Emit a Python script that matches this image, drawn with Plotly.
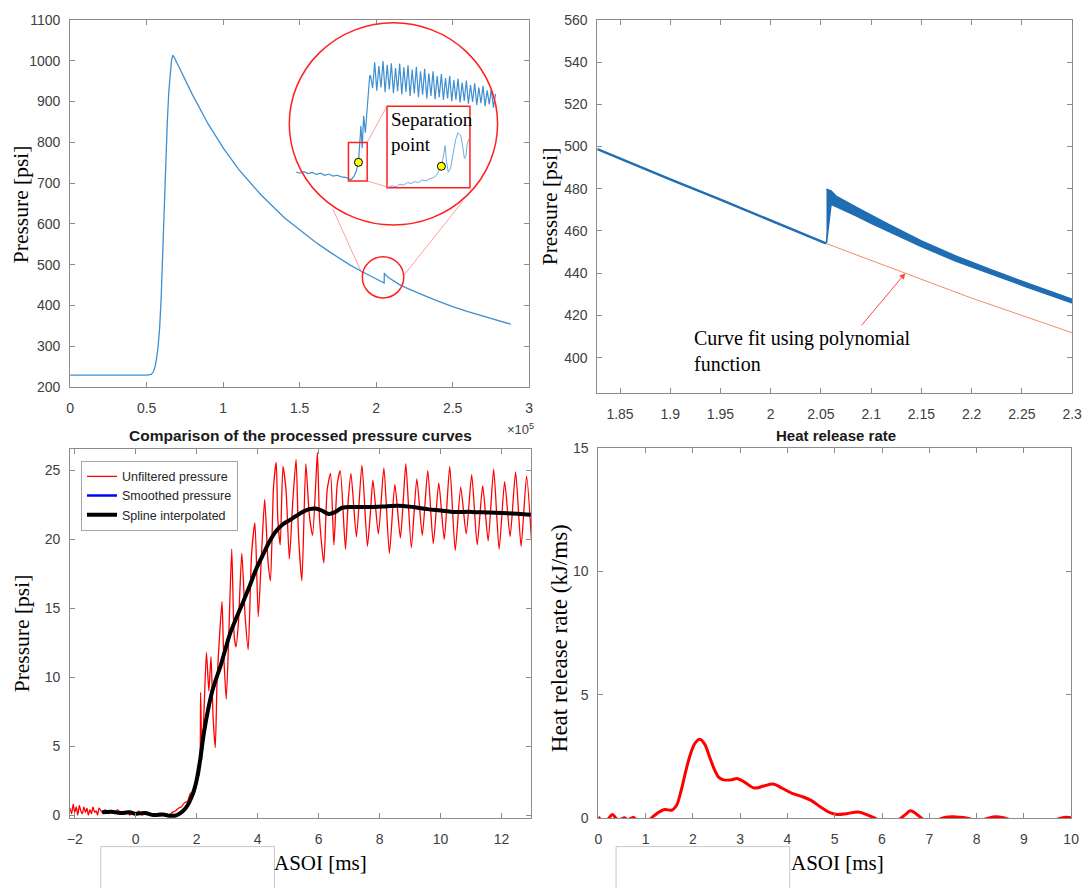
import plotly.graph_objects as go

# ---------------- Panel 1: full pressure trace (x in units of 1e5) ----------------
p1_x = [0.0, 0.1, 0.2, 0.3, 0.4, 0.5, 0.53, 0.545, 0.555, 0.565, 0.575, 0.585, 0.595, 0.605, 0.615,
        0.625, 0.635, 0.645, 0.655, 0.663, 0.671, 0.68, 0.7, 0.75, 0.8, 0.9, 1.0, 1.1, 1.245, 1.4,
        1.5, 1.6, 1.7, 1.8, 1.8274, 1.9, 2.0, 2.052, 2.0535, 2.06, 2.08, 2.11, 2.15, 2.2, 2.25, 2.3,
        2.4, 2.5, 2.6, 2.7, 2.8, 2.88]
p1_y = [229, 229, 229, 229, 229, 229, 231, 238, 250, 270, 300, 345, 420, 530, 650,
        760, 850, 925, 975, 1002, 1013, 1008, 993, 955, 916, 846, 786, 734, 672, 615,
        585, 556, 530, 506, 499.5, 484.5, 465, 455, 479.5, 475.5, 468.3, 460.5, 451.5, 442.5, 434,
        426.7, 411, 397, 385, 374, 364, 354]
p1_xticks = [0, 0.5, 1, 1.5, 2, 2.5, 3]
p1_xlabels = ["0", "0.5", "1", "1.5", "2", "2.5", "3"]
p1_yticks = [200, 300, 400, 500, 600, 700, 800, 900, 1000, 1100]

# inset (zoomed view inside the big circle): sample index vs pressure
in1_x = [3.3, 5, 7, 9, 11, 13, 15, 17, 19, 21, 23, 25, 27, 28.5, 29.7, 31.0, 32.1, 33.2, 33.6,
         34.4, 35.0, 35.7, 36.5, 37.3, 38.1, 38.6,
         39, 40, 41, 42, 43, 44, 45, 46, 47, 48, 49, 50, 51, 52, 53, 54, 55, 56, 57, 58, 59, 60,
         61, 62, 63, 64, 65, 66, 67, 68, 69, 70, 71, 72, 73, 74, 75, 76, 77, 78, 79, 80, 81, 82,
         83, 84, 85, 86, 87, 88, 89, 90, 91, 92, 93, 94, 95, 96, 97, 98, 99]
in1_y = [453.1, 452.8, 453.2, 452.7, 453.0, 452.5, 452.8, 452.3, 452.6, 452.1, 452.3, 451.9, 451.8,
         451.4, 451.2, 452.0, 453.2, 455.5, 458.0, 464.5, 459.0, 467.0, 462.8, 469.4, 473.5, 476.8,
         477.0, 473.8, 480.2, 473.2, 479.3, 474.0, 480.5, 472.8, 479.6, 473.5, 480.0, 472.6, 478.8,
         473.1, 479.9, 472.3, 479.0, 472.9, 479.5, 471.9, 478.4, 472.5, 479.1, 471.6, 478.0, 472.2,
         478.6, 471.3, 477.5, 471.9, 478.0, 471.1, 476.8, 471.6, 477.3, 470.9, 476.3, 471.3, 476.9,
         470.6, 475.8, 471.0, 476.2, 470.3, 475.2, 470.7, 475.7, 470.0, 474.6, 470.4, 475.0, 469.7,
         474.0, 470.1, 474.4, 469.4, 473.3, 469.8, 473.6, 469.0, 472.4]
in1_dot_x = [33.2]
in1_dot_y = [455.5]

# second inset (separation point, magnified)
in2_x = [28.6, 29.0, 29.4, 29.8, 30.2, 30.6, 31.0, 31.4, 31.8, 32.2, 32.6, 33.0, 33.3, 33.65, 33.9,
         34.1, 34.3, 34.5, 34.7, 34.85, 35.05, 35.3, 35.6, 35.85, 36.1, 36.4, 36.6, 36.8, 36.97,
         37.1, 37.3]
in2_y = [451.0, 451.1, 451.0, 451.3, 451.2, 451.5, 451.4, 451.6, 451.5, 451.8, 451.7, 451.9, 452.0,
         452.2, 452.6, 453.0, 453.4, 454.4, 455.8, 454.0, 452.7, 453.2, 454.8, 456.5, 457.3, 457.0,
         455.8, 454.3, 454.6, 456.0, 456.6]
in2_dot_x = [34.3]
in2_dot_y = [453.4]

# ---------------- Panel 2: zoom around the jump ----------------
p2_pre_x = [1.8274, 1.86, 1.9, 1.95, 2.0, 2.03, 2.055]
p2_pre_y = [498.8, 492.2, 484.4, 474.8, 464.9, 459.0, 454.1]
p2_band_x = [2.0555, 2.06, 2.065, 2.075, 2.085, 2.1, 2.117, 2.15, 2.184, 2.218, 2.252, 2.3]
p2_up_y = [479.8, 479.0, 476.5, 473.8, 471.2, 467.5, 463.2, 455.3, 448.2, 441.9, 435.8, 427.6]
p2_lo_y = [454.4, 472.6, 471.6, 469.6, 467.2, 463.6, 459.8, 452.6, 445.8, 439.8, 434.0, 426.0]
p2_fit_x = [1.8274, 1.9, 1.95, 2.0, 2.055, 2.13, 2.2, 2.3]
p2_fit_y = [498.8, 484.4, 474.8, 464.9, 454.1, 440.6, 428.2, 411.8]
p2_xticks = [1.85, 1.9, 1.95, 2.0, 2.05, 2.1, 2.15, 2.2, 2.25, 2.3]
p2_xlabels = ["1.85", "1.9", "1.95", "2", "2.05", "2.1", "2.15", "2.2", "2.25", "2.3"]
p2_yticks = [400, 420, 440, 460, 480, 500, 520, 540, 560]

# ---------------- Panel 3: processed pressure curves ----------------
red_x = [-2.15, -2.1, -2.05, -2.0, -1.95, -1.9, -1.85, -1.8, -1.75, -1.7, -1.65, -1.6, -1.55, -1.5,
         -1.45, -1.4, -1.35, -1.3, -1.25, -1.2, -1.1, -1.0, -0.9, -0.8, -0.7, -0.6, -0.5, -0.4, -0.3,
         -0.2, -0.1, 0.0, 0.1, 0.2, 0.3, 0.4, 0.5, 0.6, 0.7, 0.8, 0.9, 1.0, 1.1, 1.2, 1.3, 1.4, 1.5,
         1.6, 1.7, 1.8, 1.91, 2.02, 2.09, 2.13, 2.17, 2.24, 2.32, 2.40, 2.47, 2.54, 2.61, 2.67, 2.74,
         2.83, 2.88, 2.97, 3.06, 3.15, 3.23, 3.29, 3.37, 3.48, 3.59, 3.69, 3.80, 3.91, 4.02, 4.13,
         4.23, 4.34, 4.42, 4.52, 4.61, 4.66, 4.74, 4.83, 4.93, 5.04, 5.15, 5.26, 5.34, 5.45, 5.58,
         5.69, 5.80, 5.91, 5.96, 6.03, 6.17, 6.28, 6.39, 6.50, 6.61, 6.71, 6.88, 6.97, 7.06, 7.24,
         7.42, 7.6, 7.7, 7.78, 7.96, 8.14, 8.32, 8.5, 8.68, 8.78, 8.86, 9.04, 9.22, 9.4, 9.58, 9.76,
         9.94, 10.12, 10.3, 10.48, 10.66, 10.84, 11.02, 11.2, 11.38, 11.56, 11.74, 11.92, 12.1,
         12.28, 12.46, 12.64, 12.82, 12.98]
red_y = [0.5, 0.1, 0.8, 0.2, 0.6, 0.0, 0.7, 0.3, 0.1, 0.6, 0.2, 0.5, 0.0, 0.4, 0.1, 0.6, 0.2, 0.3,
         0.0, 0.5, 0.2, 0.4, 0.1, 0.3, 0.1, 0.4, 0.2, 0.1, 0.3, 0.0, 0.2, 0.1, 0.3, 0.0, 0.1, 0.2,
         0.0, 0.1, 0.0, 0.15, 0.0, 0.1, 0.0, 0.2, 0.3, 0.5, 0.6, 0.9, 1.0, 1.6, 1.5, 2.6, 3.0, 8.9,
         4.0, 7.5, 11.8, 9.0, 11.5, 7.0, 4.9, 9.8, 12.6, 15.5, 12.0, 8.4, 13.5, 19.3, 13.0, 12.2,
         14.0, 19.0, 14.4, 12.0, 18.9, 21.2, 14.4, 19.1, 22.9, 18.4, 17.0, 23.8, 25.6, 21.5, 19.6,
         25.3, 23.6, 18.6, 22.7, 25.8, 20.3, 17.0, 25.5, 21.9, 20.3, 24.3, 26.3, 21.5, 18.3, 23.6,
         24.8, 19.6, 24.0, 25.0, 19.3, 22.8, 24.8, 20.2, 25.4, 19.5, 22.0, 24.3, 20.4, 25.2, 19.0,
         24.0, 20.1, 23.0, 25.5, 19.4, 24.4, 20.3, 25.0, 19.7, 24.1, 20.0, 25.3, 19.2, 23.8, 20.4,
         24.7, 19.6, 23.9, 19.9, 25.1, 19.3, 24.2, 20.2, 24.9, 19.5, 24.6, 20.0]
smooth_x = [-1.1, -0.8, -0.5, -0.2, 0.0, 0.3, 0.6, 0.9, 1.1, 1.35, 1.55, 1.7, 1.85, 1.97, 2.1, 2.24,
            2.37, 2.5, 2.64, 2.78, 2.95, 3.1, 3.3, 3.53, 3.75, 3.96, 4.2, 4.4, 4.6, 4.83, 5.05, 5.26,
            5.48, 5.69, 5.9, 6.1, 6.34, 6.55, 6.77, 7.2, 7.7, 8.2, 8.6, 9.1, 9.57, 10.0, 10.4, 11.0,
            11.6, 12.2, 12.95]
smooth_y = [0.2, 0.25, 0.15, 0.2, 0.1, 0.15, 0.0, 0.05, -0.05, 0.0, 0.3, 0.7, 1.4, 2.25, 3.8, 6.0,
            7.6, 8.9, 9.9, 10.8, 12.1, 13.2, 14.3, 15.5, 16.7, 17.9, 19.0, 19.9, 20.6, 21.1, 21.4,
            21.7, 22.0, 22.2, 22.25, 22.1, 21.85, 22.0, 22.3, 22.35, 22.35, 22.4, 22.45, 22.35, 22.2,
            22.1, 22.0, 22.0, 21.95, 21.9, 21.8]
spline_x = smooth_x
spline_y = smooth_y
p3_xticks = [-2, 0, 2, 4, 6, 8, 10, 12]
p3_yticks = [0, 5, 10, 15, 20, 25]

# ---------------- Panel 4: heat release rate ----------------
hrr_x = [0.0, 0.1, 0.2, 0.3, 0.4, 0.5, 0.55, 0.62, 0.7, 0.75, 0.82, 0.95, 1.05, 1.15, 1.25, 1.4,
         1.55, 1.65, 1.75, 1.85, 1.95, 2.05, 2.15, 2.25, 2.35, 2.45, 2.55, 2.65, 2.8, 2.95, 3.1,
         3.3, 3.5, 3.7, 3.9, 4.1, 4.3, 4.5, 4.7, 4.9, 5.05, 5.25, 5.5, 5.7, 5.85, 6.0, 6.2, 6.4,
         6.5, 6.6, 6.72, 6.85, 7.0, 7.2, 7.35, 7.55, 7.75, 7.9, 8.1, 8.25, 8.4, 8.6, 8.8, 9.2, 9.6,
         9.85, 10.0]
hrr_y = [0.05, -0.12, -0.05, 0.15, -0.05, -0.03, 0.02, -0.06, 0.0, 0.03, -0.1, -0.2, -0.12, 0.05,
         0.2, 0.35, 0.32, 0.5, 1.1, 1.9, 2.6, 3.05, 3.2, 3.0, 2.5, 2.0, 1.65, 1.55, 1.55, 1.6, 1.45,
         1.22, 1.3, 1.38, 1.2, 1.0, 0.88, 0.72, 0.45, 0.22, 0.15, 0.18, 0.25, 0.12, 0.0, -0.15,
         -0.2, 0.0, 0.15, 0.3, 0.18, -0.02, -0.18, -0.05, 0.04, 0.05, 0.02, -0.05, -0.08, 0.0,
         0.06, 0.0, -0.12, -0.2, -0.1, 0.03, 0.02]
p4_xticks = [0, 1, 2, 3, 4, 5, 6, 7, 8, 9, 10]
p4_yticks = [0, 5, 10, 15]

# ---------------- styling helpers ----------------
W, H = 1092, 888
AX = "#8c8c8c"
TF = dict(family="Liberation Sans, Arial", size=14, color="#404040")
SERIF = "Liberation Serif, Times New Roman"


def px(v):
    return v / W


def py(v):
    return 1 - v / H


def axis(domain, rng, tickvals, anchor, ticktext=None, standoff=6):
    d = dict(domain=domain, range=rng, anchor=anchor, tickmode="array", tickvals=tickvals,
             showline=True, linecolor=AX, linewidth=1, mirror="ticks", ticks="inside",
             ticklen=5, tickcolor=AX, tickfont=TF, showgrid=False, zeroline=False,
             ticklabelstandoff=standoff)
    if ticktext is not None:
        d["ticktext"] = ticktext
    return d


fig = go.Figure()

# panel 1
fig.add_trace(go.Scatter(x=p1_x, y=p1_y, mode="lines", line=dict(color="#3d8fd1", width=1.3),
                         xaxis="x", yaxis="y", showlegend=False))
# inset 1
fig.add_trace(go.Scatter(x=in1_x, y=in1_y, mode="lines", line=dict(color="#3f8fd0", width=1.2),
                         xaxis="x5", yaxis="y5", showlegend=False))
fig.add_trace(go.Scatter(x=in1_dot_x, y=in1_dot_y, mode="markers",
                         marker=dict(color="#ffff00", size=8, line=dict(color="black", width=1)),
                         xaxis="x5", yaxis="y5", showlegend=False))
# inset 2
fig.add_trace(go.Scatter(x=in2_x, y=in2_y, mode="lines", line=dict(color="#6aaee0", width=1),
                         xaxis="x6", yaxis="y6", showlegend=False))
fig.add_trace(go.Scatter(x=in2_dot_x, y=in2_dot_y, mode="markers",
                         marker=dict(color="#ffff00", size=8, line=dict(color="black", width=1)),
                         xaxis="x6", yaxis="y6", showlegend=False))

# panel 2
fig.add_trace(go.Scatter(x=p2_fit_x, y=p2_fit_y, mode="lines", line=dict(color="#f0905f", width=1),
                         xaxis="x2", yaxis="y2", showlegend=False))
fig.add_trace(go.Scatter(x=p2_pre_x, y=p2_pre_y, mode="lines", line=dict(color="#1f6db3", width=2.4),
                         xaxis="x2", yaxis="y2", showlegend=False))
fig.add_trace(go.Scatter(x=p2_band_x + p2_band_x[::-1], y=p2_up_y + p2_lo_y[::-1], mode="lines",
                         fill="toself", fillcolor="#1f6db3", line=dict(color="#1f6db3", width=1.6),
                         xaxis="x2", yaxis="y2", showlegend=False))

# panel 3
fig.add_trace(go.Scatter(x=red_x, y=red_y, mode="lines", name="Unfiltered pressure",
                         line=dict(color="#ff0000", width=1.3, shape="spline", smoothing=0.6),
                         xaxis="x3", yaxis="y3"))
fig.add_trace(go.Scatter(x=smooth_x, y=smooth_y, mode="lines", name="Smoothed pressure",
                         line=dict(color="#0000ff", width=2.5, shape="spline"),
                         xaxis="x3", yaxis="y3"))
fig.add_trace(go.Scatter(x=spline_x, y=spline_y, mode="lines", name="Spline interpolated",
                         line=dict(color="#000000", width=4, shape="spline"),
                         xaxis="x3", yaxis="y3"))

# panel 4
fig.add_trace(go.Scatter(x=hrr_x, y=hrr_y, mode="lines", line=dict(color="#ff0000", width=3, shape="spline"),
                         xaxis="x4", yaxis="y4", showlegend=False))

RED = "#ff2020"
PINK = "rgba(255,80,80,0.55)"
shapes = [
    dict(type="circle", xref="x5 domain", yref="y5 domain", x0=0, x1=1, y0=0, y1=1,
         line=dict(color=RED, width=1.5)),
    dict(type="circle", xref="x", yref="y", x0=1.9095, x1=2.1805, y0=418.5, y1=519.3,
         line=dict(color=RED, width=1.5)),
    dict(type="line", xref="x", yref="y", x0=1.9097, y0=476.0, x1=1.716, y1=636.8,
         line=dict(color=PINK, width=1)),
    dict(type="line", xref="x", yref="y", x0=2.1806, y0=473.7, x1=2.5677, y1=656.0,
         line=dict(color=PINK, width=1)),
    dict(type="rect", xref="x5", yref="y5", x0=28.4, x1=37.4, y0=450.9, y1=460.4,
         line=dict(color=RED, width=1.5)),
    dict(type="rect", xref="x6 domain", yref="y6 domain", x0=0, x1=1, y0=0, y1=1,
         line=dict(color=RED, width=1.5)),
    dict(type="line", xref="x5", yref="y5", x0=37.4, y0=460.4, x1=46.9, y1=469.4,
         line=dict(color=PINK, width=1)),
    dict(type="line", xref="x5", yref="y5", x0=37.4, y0=450.9, x1=48.7, y1=449.15,
         line=dict(color=PINK, width=1)),
    dict(type="rect", xref="paper", yref="paper", x0=px(98), x1=px(274), y0=-0.02, y1=py(854),
         line=dict(color="#c8c8c8", width=1)),
    dict(type="rect", xref="paper", yref="paper", x0=px(620), x1=px(796), y0=-0.02, y1=py(854),
         line=dict(color="#c8c8c8", width=1)),
]

annotations = [
    dict(text="Separation<br>point", xref="x6 domain", yref="y6 domain", x=0.02, y=0.99,
         xanchor="left", yanchor="top", align="left", showarrow=False,
         font=dict(family=SERIF, size=19, color="black")),
    dict(text="×10<sup>5</sup>", xref="paper", yref="paper", x=px(507), y=py(429),
         xanchor="left", yanchor="middle", showarrow=False,
         font=dict(family="Liberation Sans, Arial", size=13, color="#404040")),
    dict(text="<b>Comparison of the processed pressure curves</b>", xref="paper", yref="paper",
         x=px(300), y=py(435), xanchor="center", yanchor="middle", showarrow=False,
         font=dict(family="Liberation Sans, Arial", size=15.5, color="#1a1a1a")),
    dict(text="<b>Heat release rate</b>", xref="paper", yref="paper",
         x=px(843), y=py(435), xanchor="center", yanchor="middle", showarrow=False,
         font=dict(family="Liberation Sans, Arial", size=15, color="#1a1a1a")),
    dict(text="Pressure [psi]", xref="paper", yref="paper", x=px(18), y=py(200), textangle=-90,
         xanchor="center", yanchor="middle", showarrow=False,
         font=dict(family=SERIF, size=21.5, color="black")),
    dict(text="Pressure [psi]", xref="paper", yref="paper", x=px(553), y=py(202), textangle=-90,
         xanchor="center", yanchor="middle", showarrow=False,
         font=dict(family=SERIF, size=21.5, color="black")),
    dict(text="Pressure [psi]", xref="paper", yref="paper", x=px(18), y=py(637), textangle=-90,
         xanchor="center", yanchor="middle", showarrow=False,
         font=dict(family=SERIF, size=21.5, color="black")),
    dict(text="Heat release rate (kJ/ms)", xref="paper", yref="paper", x=px(563), y=py(642),
         textangle=-90, xanchor="center", yanchor="middle", showarrow=False,
         font=dict(family=SERIF, size=23, color="black")),
    dict(text="ASOI [ms]", xref="paper", yref="paper", x=px(321), y=py(871), xanchor="center",
         yanchor="middle", showarrow=False, font=dict(family=SERIF, size=21, color="black")),
    dict(text="ASOI [ms]", xref="paper", yref="paper", x=px(844), y=py(871), xanchor="center",
         yanchor="middle", showarrow=False, font=dict(family=SERIF, size=21, color="black")),
    dict(text="Curve fit using polynomial<br>function", xref="x2", yref="y2", x=1.922, y=415.5,
         xanchor="left", yanchor="top", align="left", showarrow=False,
         font=dict(family=SERIF, size=20, color="black")),
    dict(text=" ", xref="x2", yref="y2", x=2.134, y=440.0, axref="x2", ayref="y2",
         ax=2.089, ay=414.5, showarrow=True, arrowhead=2, arrowsize=1.2, arrowwidth=1,
         arrowcolor="rgba(255,40,40,0.85)", font=dict(size=1)),
]

fig.update_layout(
    width=W, height=H, margin=dict(l=0, r=0, t=0, b=0),
    paper_bgcolor="white", plot_bgcolor="rgba(0,0,0,0)",
    xaxis=axis([px(67), px(532)], [0, 3], p1_xticks, "y", p1_xlabels, standoff=8),
    yaxis=axis([py(386), py(12)], [200, 1100], p1_yticks, "x", standoff=6),
    xaxis2=axis([px(601), px(1082)], [1.8274, 2.3], p2_xticks, "y2", p2_xlabels, standoff=8),
    yaxis2=axis([py(392), py(12)], [383.3, 560], p2_yticks, "x2", standoff=6),
    xaxis3=axis([px(67), px(534)], [-2.15, 12.97], p3_xticks, "y3", standoff=8),
    yaxis3=axis([py(825), py(449)], [-0.22, 26.57], p3_yticks, "x3", standoff=6),
    xaxis4=axis([px(602), px(1081)], [0, 10], p4_xticks, "y4", standoff=8),
    yaxis4=axis([py(825), py(448)], [0, 15], p4_yticks, "x4", standoff=6),
    xaxis5=dict(domain=[px(289), px(500)], range=[0, 100], visible=False, anchor="y5"),
    yaxis5=dict(domain=[py(221), py(15)], range=[440, 490], visible=False, anchor="x5"),
    xaxis6=dict(domain=[px(388), px(472)], range=[28.4, 37.4], visible=False, anchor="y6"),
    yaxis6=dict(domain=[py(183), py(100)], range=[450.9, 460.4], visible=False, anchor="x6"),
    legend=dict(x=px(78), y=py(461), xanchor="left", yanchor="top", bgcolor="white",
                bordercolor="#a6a6a6", borderwidth=1, tracegroupgap=0,
                font=dict(family="Liberation Sans, Arial", size=12.5, color="#262626")),
    shapes=shapes,
    annotations=annotations,
)

fig.write_html("out.html", config={"displayModeBar": False},
               post_script="document.body.style.margin='0px';document.body.style.overflow='hidden';")
